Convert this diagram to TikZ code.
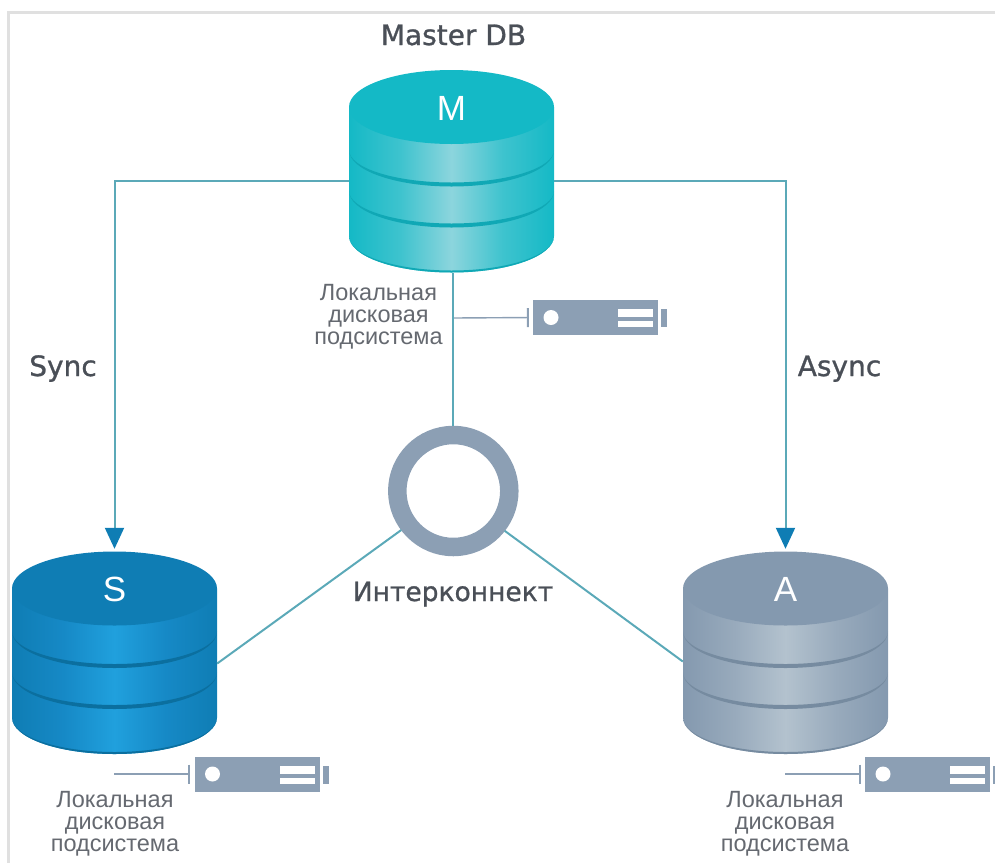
\documentclass[tikz,border=0pt]{standalone}
\usepackage{xcolor}
\usepackage{fontspec}
\usepackage{tikz}
\usetikzlibrary{arrows.meta}

\setmainfont{Liberation Sans}
\newfontfamily\labelfont[FakeBold=1]{DejaVu Sans}

\definecolor{topM}{HTML}{14B9C6}
\definecolor{halfM}{HTML}{3EC3CE}
\definecolor{midM}{HTML}{8CD5DD}
\definecolor{bandM}{HTML}{10A8B5}
\definecolor{topS}{HTML}{0F7DB4}
\definecolor{halfS}{HTML}{1689C6}
\definecolor{midS}{HTML}{20A0DD}
\definecolor{bandS}{HTML}{0B6F9F}
\definecolor{topA}{HTML}{8499AF}
\definecolor{halfA}{HTML}{98AABC}
\definecolor{midA}{HTML}{B3C2CE}
\definecolor{bandA}{HTML}{768BA0}
\definecolor{wire}{HTML}{5BA9B8}
\definecolor{slate}{HTML}{8C9FB4}
\definecolor{ink}{HTML}{4A4F57}

\pgfdeclarehorizontalshading{sideM}{100bp}{color(0bp)=(topM); color(25bp)=(topM); color(37.5bp)=(halfM); color(50bp)=(midM); color(62.5bp)=(halfM); color(75bp)=(topM); color(100bp)=(topM)}
\pgfdeclarehorizontalshading{sideS}{100bp}{color(0bp)=(topS); color(25bp)=(topS); color(37.5bp)=(halfS); color(50bp)=(midS); color(62.5bp)=(halfS); color(75bp)=(topS); color(100bp)=(topS)}
\pgfdeclarehorizontalshading{sideA}{100bp}{color(0bp)=(topA); color(25bp)=(topA); color(37.5bp)=(halfA); color(50bp)=(midA); color(62.5bp)=(halfA); color(75bp)=(topA); color(100bp)=(topA)}

\begin{document}
\begin{tikzpicture}[
        x = 1pt,
        y = -1pt,
        wire/.style = {draw=wire, line width=2pt},
        arrowwire/.style = {wire, -{Triangle[length=21pt, width=19pt, color=topS]}, shorten >= 3pt},
        stubwire/.style = {draw=slate, line width=1.4pt, -{Bar[width=19pt, line width=2pt]}, shorten >= 4pt},
        bigtext/.style = {text=ink, font=\fontsize{28}{28}\labelfont, inner sep=0pt, anchor=base},
        smalltext/.style = {text=ink!85, align=center, inner sep=0pt, font=\fontsize{23.5}{22}\selectfont},
        dbletter/.style = {text=white, inner sep=0pt, font=\fontsize{35}{35}\selectfont},
        dbbox/.style = {minimum width=205pt, minimum height=202pt, inner sep=0pt},
        storage/.style = {fill=slate, minimum width=125pt, minimum height=35pt, inner sep=0pt},
    ]
        \useasboundingbox (0,0) rectangle (995,863);

        % Frame
        \draw[draw=black!12, line width=2.2pt] (8.5,863) -- (8.5,12.5) -- (995,12.5);

        % Draw the databases
        \foreach \i/\cx/\cy in {
            M/451.5/107,
            S/114.5/588.5,
            A/785.5/588.5} {
            \begin{scope}[shift={(\cx,\cy)}]
                \shade[shading=side\i]
                    (-102.5,0) -- (-102.5,129)
                    arc[start angle=180, end angle=0, x radius=102.5, y radius=36.5]
                    -- (102.5,0) -- cycle;
                \foreach \h in {43,84} {
                    \fill[band\i] (-102.5,\h)
                        arc[start angle=180, end angle=0, x radius=102.5, y radius=36.5]
                        arc[start angle=0, end angle=180, x radius=102.5, y radius=32.5];
                }
                \fill[band\i] (-102.5,129)
                    arc[start angle=180, end angle=0, x radius=102.5, y radius=36.5]
                    arc[start angle=0, end angle=180, x radius=102.5, y radius=34.5];
                \fill[top\i] (0,0) ellipse[x radius=102.5, y radius=37];
                \node[dbbox] (\i) at (0,64.5) {};
                \node[dbletter] (\i letter) at (0,1) {\i};
            \end{scope}
        }

        % Draw the interconnect ring
        \node[circle, draw=slate, line width=18.5pt, outer sep=0pt, minimum size=112pt, inner sep=0pt] (ring) at (453.3,491) {};

        % Draw the storage units
        \foreach \i/\cx/\cy in {
            M/595.5/317.5,
            S/257/774,
            A/927.5/774} {
            \begin{scope}[shift={(\cx,\cy)}]
                \node[storage] (disk\i) at (0,0) {};
                \fill[white] (-44.5,0) circle (7.5);
                \fill[white] (22.5,-8.5) rectangle (57.5,-0.5);
                \fill[white] (22.5,3.5) rectangle (57.5,9.5);
                \fill[slate] (65.5,-8.5) rectangle (71.5,9.5);
            \end{scope}
        }

        % Free ends of the storage wires
        \coordinate (tapM) at (453,318);
        \coordinate (tapS) at (114,774);
        \coordinate (tapA) at (785,774);
        \foreach \i in {M,S,A} {
            \draw[stubwire] (tap\i) -- (disk\i.west);
        }

        % Draw the connectors
        \draw[arrowwire] ([yshift=-9.5pt]M.west) -| (S.north);
        \draw[arrowwire] ([yshift=-9.5pt]M.east) -| (A.north);
        \draw[wire, shorten <=9pt] (ring.north) -- (ring.north |- M.south);
        \draw[wire, shorten <=9pt] (ring.217) -- ([yshift=-10.5pt]S.east);
        \draw[wire, shorten <=9pt] (ring.322) -- ([yshift=-8.5pt]A.west);

        % Labels
        \node[bigtext] (masterlabel) at (453.5,45) {Master DB};
        \node[bigtext] (synclabel) at (63,376) {Sync};
        \node[bigtext] (asynclabel) at (839.5,376) {Async};
        \node[bigtext, font=\fontsize{26.5}{26.5}\labelfont] (ringlabel) at (453,601) {Интерконнект};
        \node[smalltext] (textM) at (378.5,317) {Локальная\\дисковая\\подсистема};
        \node[smalltext] (textS) at (115,824) {Локальная\\дисковая\\подсистема};
        \node[smalltext] (textA) at (785,824) {Локальная\\дисковая\\подсистема};
    \end{tikzpicture}
\end{document}
